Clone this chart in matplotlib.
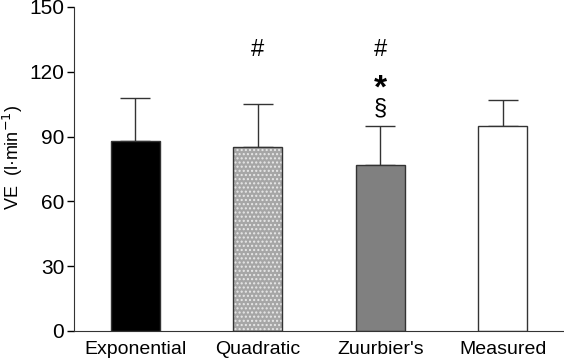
import matplotlib
matplotlib.use("Agg")
import matplotlib.pyplot as plt

plt.rcParams['font.family'] = ['Liberation Sans', 'DejaVu Sans']

categories = ["Exponential", "Quadratic", "Zuurbier's", "Measured"]
means = [88, 85, 77, 95]
sd_upper = [20, 20, 18, 12]
face_colors = ["#000000", "#a6a6a6", "#808080", "#ffffff"]
annotations = {1: [("#", 130)], 2: [("#", 130), ("*", 115.5), ("§", 103)]}

fig = plt.figure(figsize=(5.64, 3.61), dpi=100)
ax = fig.add_axes([74/564, 30/361, 490/564, 324/361])

x = list(range(len(categories)))
width = 0.4
for i, (m, c) in enumerate(zip(means, face_colors)):
    if i == 1:
        ax.bar(i, m, width=width, color=c, edgecolor="#e8e8e8", hatch="....", linewidth=0, zorder=2)
        ax.bar(i, m, width=width, facecolor="none", edgecolor="#333333", linewidth=1, zorder=3)
    else:
        ax.bar(i, m, width=width, color=c, edgecolor="#333333", linewidth=1, zorder=2)

ax.errorbar(x, means, yerr=[[0]*len(means), sd_upper], fmt="none", ecolor="#333333",
            elinewidth=1, capsize=11, capthick=1, zorder=1)

for i, items in annotations.items():
    for sym, yv in items:
        if sym == "*":
            ax.text(i, yv - 3.5, sym, ha="center", va="center", fontsize=24,
                    fontweight="bold", color="black")
        else:
            ax.text(i, yv, sym, ha="center", va="center", fontsize=17, color="black")

ax.set_xlim(-0.5, 3.5)
ax.set_ylim(0, 150)
ax.set_yticks([0, 30, 60, 90, 120, 150])
ax.set_xticks(x)
ax.set_xticklabels(categories, fontsize=14)
ax.tick_params(axis="y", labelsize=15, length=5, width=1, direction="out", pad=2)
ax.tick_params(axis="x", length=0, pad=7)
for s in ["top", "right"]:
    ax.spines[s].set_visible(False)
ax.spines["left"].set_color("#333333")
ax.spines["bottom"].set_color("#333333")
ax.set_ylabel("VE  (l·min$^{-1}$)", fontsize=13)
ax.yaxis.set_label_coords(-0.1, 0.535)

fig.savefig("out.png", dpi=100)
